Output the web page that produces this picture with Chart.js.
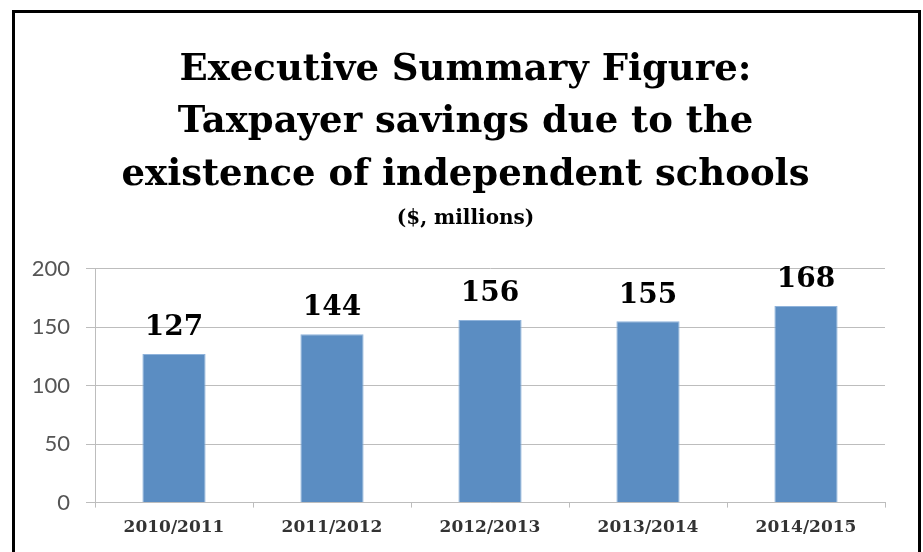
<!DOCTYPE html>
<html>
<head>
<meta charset="utf-8">
<script src="https://cdn.jsdelivr.net/npm/chart.js@4"></script>
<style>
  html, body { margin: 0; padding: 0; background: #fff; overflow: hidden; }
  #wrap { position: relative; width: 923px; height: 552px; }
  #frame { position: absolute; left: 12px; top: 10px; width: 903px; height: 600px; border: 3px solid #000; pointer-events: none; }
  canvas { position: absolute; left: 0; top: 0; }
</style>
</head>
<body>
<div id="wrap">
  <canvas id="savingsChart" width="923" height="552"></canvas>
  <div id="frame"></div>
</div>
<script>
const titleLines = ['Executive Summary Figure:', 'Taxpayer savings due to the', 'existence of independent schools'];
const subtitleText = '($, millions)';
const years = ['2010/2011', '2011/2012', '2012/2013', '2013/2014', '2014/2015'];
const savings = [127, 144, 156, 155, 168];
const yTicks = [0, 50, 100, 150, 200];

const serif = "'DejaVu Serif', 'Liberation Serif', serif";

// numbers above each bar
const barLabels = {
    id: 'barLabels',
    afterLayout(chart) {
        // let the y tick labels spill into the left padding instead of being clipped
        chart.scales.y.left = 0;
    },
    afterDatasetsDraw(chart) {
        const ctx = chart.ctx;
        const meta = chart.getDatasetMeta(0);
        ctx.save();
        ctx.font = "bold 28px " + serif;
        ctx.fillStyle = '#000';
        ctx.textAlign = 'center';
        ctx.textBaseline = 'bottom';
        meta.data.forEach((bar, i) => {
            ctx.fillText(String(savings[i]), bar.x, bar.y - 12);
        });
        ctx.restore();
    }
};

const ctx = document.getElementById('savingsChart').getContext('2d');

new Chart(ctx, {
    type: 'bar',
    data: {
        labels: years,
        datasets: [{
            data: savings,
            backgroundColor: '#5b8dc2',
            borderColor: '#8fb3db',
            borderWidth: 1,
            barPercentage: 0.4,
            categoryPercentage: 1
        }]
    },
    options: {
        responsive: false,
        animation: false,
        layout: { padding: { left: 46, right: 38, top: 0, bottom: 4 } },
        plugins: {
            legend: { display: false },
            tooltip: { enabled: false },
            title: {
                display: true,
                text: titleLines,
                color: '#000',
                font: { family: serif, size: 37, weight: 'bold', lineHeight: 1.42 },
                padding: { top: 44, bottom: 5 }
            },
            subtitle: {
                display: true,
                text: subtitleText,
                color: '#000',
                font: { family: serif, size: 20, weight: 'bold', lineHeight: 1.2 },
                padding: { top: 0, bottom: 38 }
            }
        },
        scales: {
            x: {
                grid: { display: true, drawOnChartArea: false, drawTicks: true, tickLength: 5, color: '#bdbdbd', offset: true },
                border: { color: '#bdbdbd', width: 1 },
                ticks: { color: '#333', padding: 10, font: { family: serif, size: 17, weight: 'bold' } }
            },
            y: {
                min: 0,
                max: 200,
                afterFit: scale => { scale.width = 49; },
                afterBuildTicks: scale => { scale.ticks = yTicks.map(v => ({ value: v })); },
                grid: { color: '#bdbdbd', tickLength: 9, lineWidth: 1 },
                border: { color: '#bdbdbd', width: 1 },
                ticks: { color: '#555', padding: 16, font: { family: "Lato, 'Open Sans', sans-serif", size: 22 } }
            }
        }
    },
    plugins: [barLabels]
});
</script>
</body>
</html>
